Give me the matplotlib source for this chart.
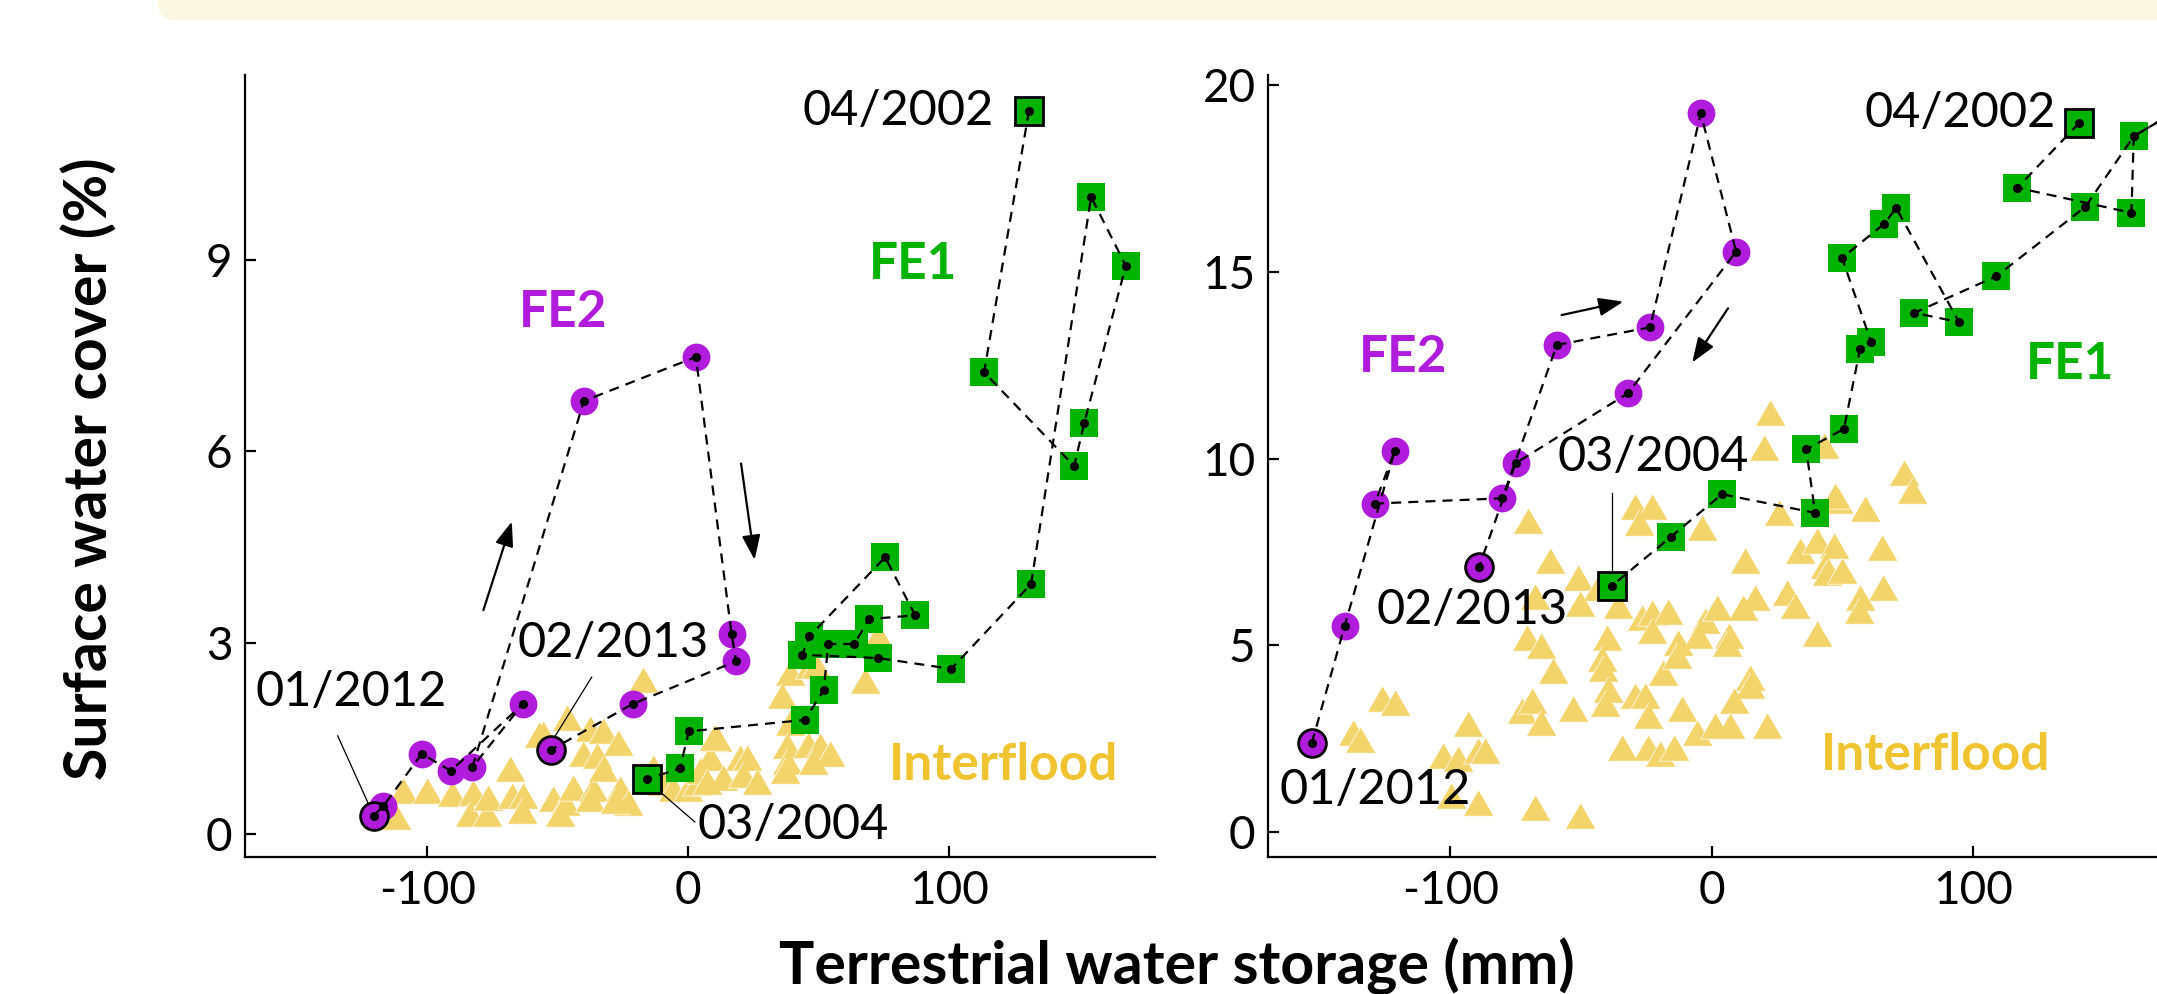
import matplotlib
matplotlib.use("Agg")
import matplotlib.pyplot as plt
import matplotlib.patches as mpatches
from matplotlib.transforms import IdentityTransform

plt.rcParams['font.family'] = ['Lato', 'DejaVu Sans']
plt.rcParams['axes.unicode_minus'] = False

# ---------------- left panel ----------------
fe2_left_x = [-120.5, -116.8, -102.1, -91.0, -63.4, -82.7, -40.0, 2.9, 16.6, 18.3, -21.3, -52.6]
fe2_left_y = [0.29, 0.44, 1.26, 0.99, 2.04, 1.05, 6.79, 7.48, 3.13, 2.71, 2.04, 1.32]

fe1_left_x = [130.5, 113.3, 147.8, 151.7, 167.6, 154.3, 131.3, 100.7, 72.7, 43.6, 46.4,
              75.4, 86.9, 69.2, 63.6, 53.6, 51.9, 44.7, 0.2, -3.2, -15.7]
fe1_left_y = [11.34, 7.24, 5.77, 6.45, 8.91, 9.99, 3.92, 2.59, 2.76, 2.81, 3.10,
              4.34, 3.43, 3.37, 2.98, 2.98, 2.26, 1.79, 1.61, 1.03, 0.86]

inter_left_x = [-115.6, -112.0, -109.2, -100.2, -90.7, -82.4, -83.6, -77.2, -76.6, -68.3,
                -67.7, -63.2, -63.8, -55.6, -51.7, -47.2, -49.2, -46.6, -37.7, -32.6,
                -26.8, -40.2, -35.1, -44.1, -36.4, -37.7, -32.6, -26.2, -23.0, -28.1,
                -17.2, -13.4, -10.2, -5.7, 0.0, 3.2, 72.8, 67.7, 39.0, 35.8,
                46.6, 39.0, 10.9, 8.3, 19.8, 22.4, 4.5, 13.4, 21.1, 26.2,
                7.0, 37.7, 46.0, 50.5, 54.3, 37.7, 47.9, 37.0, -57.2, 10.0, 49.1]
inter_left_y = [0.38, 0.20, 0.61, 0.61, 0.56, 0.58, 0.25, 0.25, 0.51, 0.95,
                0.53, 0.53, 0.30, 1.50, 0.48, 0.42, 0.25, 1.76, 1.58, 1.55,
                1.37, 1.19, 1.16, 0.66, 0.64, 0.48, 0.95, 0.64, 0.42, 0.45,
                2.36, 0.98, 0.74, 0.64, 0.64, 0.74, 3.04, 2.34, 2.47, 2.10,
                2.57, 1.68, 1.42, 1.13, 1.13, 1.13, 0.92, 0.82, 0.87, 0.76,
                0.76, 1.32, 1.34, 1.32, 1.19, 1.06, 1.06, 0.92, 1.49, 1.45, 2.57]

# ---------------- right panel ----------------
fe2_right_x = [-152.9, -140.3, -121.2, -128.8, -80.1, -59.2, -23.6, -4.2, 9.3, -32.1, -75.0, -88.9]
fe2_right_y = [2.38, 5.53, 10.21, 8.80, 8.94, 13.05, 13.52, 19.25, 15.55, 11.75, 9.88, 7.11]

fe1_right_x = [140.5, 116.8, 160.4, 161.3, 188.0, 161.3, 142.8, 108.8, 77.4, 94.5, 70.5,
               65.8, 49.8, 60.9, 56.7, 50.5, 36.1, 39.5, 3.9, -15.6, -38.3]
fe1_right_y = [19.00, 17.26, 16.59, 18.64, 19.75, 18.64, 16.75, 14.89, 13.91, 13.66, 16.72,
               16.29, 15.38, 13.13, 12.95, 10.80, 10.25, 8.55, 9.05, 7.91, 6.59]

inter_right_x = [-70.2, -61.9, -51.0, -43.4, -50.2, -29.3, -22.9, -28.0, -35.7, -26.8,
                 -23.0, -16.6, -23.0, -3.8, -2.6, -5.1, -12.8, -70.8, -65.1, -60.6,
                 -40.2, -42.1, -41.5, -39.6, -40.8, -29.3, -25.5, -24.2, -18.5, -13.4,
                 -11.5, -5.8, -24.2, -19.7, -14.6, -34.4, -52.9, -72.7, -68.9, -65.1,
                 -93.1, -102.7, -97.0, -89.4, -86.8, -99.5, -89.4, -67.6, -50.4, -126.2,
                 -121.1, -137.1, -134.6, -67.6, 25.5, 48.4, 58.6, 12.7, 33.8, 40.2,
                 46.6, 43.4, 44.1, 49.7, 65.0, 65.4, 28.7, 31.9, 16.6, 12.1,
                 1.9, 56.8, 56.1, 40.2, 6.4, 5.7, 14.7, 14.7, 8.3, 7.0,
                 21.0, 1.3, 22.3, 19.8, 73.3, 76.5, 42.7, 47.2]
inter_right_y = [8.22, 7.15, 6.71, 6.44, 5.99, 8.60, 8.60, 8.18, 5.95, 5.63,
                 5.76, 5.80, 5.28, 8.04, 5.54, 5.14, 4.97, 5.10, 4.87, 4.21,
                 5.10, 4.52, 4.25, 3.71, 3.31, 3.54, 3.54, 3.00, 4.16, 4.61,
                 3.18, 2.55, 2.15, 1.97, 2.15, 2.15, 3.18, 3.13, 3.40, 2.82,
                 2.78, 1.93, 1.84, 2.06, 2.06, 0.86, 0.68, 0.54, 0.32, 3.45,
                 3.36, 2.55, 2.37, 6.19, 8.45, 8.76, 8.54, 7.15, 7.42, 7.69,
                 7.56, 7.02, 6.84, 6.88, 7.50, 6.44, 6.30, 5.95, 6.17, 5.90,
                 5.90, 6.17, 5.81, 5.19, 5.14, 4.92, 4.03, 3.80, 3.40, 2.73,
                 2.73, 2.73, 11.13, 10.19, 9.52, 9.03, 10.23, 8.89]

PURPLE = '#B01BDC'
GREEN = '#00B300'
YELLOW = '#F3D46A'
GOLD = '#F0C430'
TRI = [(0, 1), (-0.866, -0.5), (0.866, -0.5)]

fig = plt.figure(figsize=(21.57, 9.94), dpi=100)

# pale banner at the top
banner = mpatches.FancyBboxPatch((158, 974), 2200, 200, boxstyle="round,pad=0,rounding_size=18",
                                 transform=IdentityTransform(), fc='#FAF7E3', ec='none')
fig.add_artist(banner)

ax1 = fig.add_axes([0.1136, 0.1378, 0.4219, 0.7867])
ax2 = fig.add_axes([0.5879, 0.1378, 0.4604, 0.7867])


def draw_event(ax, xs, ys, marker, color, ms, first_last):
    ax.plot(xs, ys, ls='none', marker=marker, ms=ms, mfc=color, mec=color, mew=0, zorder=3)
    for i in first_last:
        ax.plot(xs[i], ys[i], ls='none', marker=marker, ms=ms, mfc=color, mec='k', mew=2, zorder=3)
    ax.plot(xs, ys, color='k', lw=1.6, ls=(0, (4.5, 3.2)), zorder=4)
    ax.plot(xs, ys, ls='none', marker='o', ms=5.5, color='k', zorder=5)


def arrow(ax, tail, head):
    ax.annotate('', xy=head, xytext=tail,
                arrowprops=dict(arrowstyle='-|>,head_length=0.75,head_width=0.28', lw=1.6,
                                color='k', shrinkA=0, shrinkB=0, mutation_scale=20), zorder=6)


for ax in (ax1, ax2):
    ax.spines['top'].set_visible(False)
    ax.spines['right'].set_visible(False)
    for s in ('left', 'bottom'):
        ax.spines[s].set_linewidth(1.6)
    ax.tick_params(direction='in', length=8, width=1.6, labelsize=33, pad=9)

# left panel
ax1.plot(inter_left_x, inter_left_y, ls='none', marker=TRI, ms=25, mfc=YELLOW, mec='white',
         mew=0.5, zorder=2)
draw_event(ax1, fe2_left_x, fe2_left_y, 'o', PURPLE, 20, [0, len(fe2_left_x) - 1])
draw_event(ax1, fe1_left_x, fe1_left_y, 's', GREEN, 20.5, [0, len(fe1_left_x) - 1])
arrow(ax1, (-78.5, 3.51), (-67.6, 4.90))
arrow(ax1, (20.2, 5.81), (25.4, 4.30))
ax1.plot([-134.3, -122.6], [1.54, 0.48], color='k', lw=0.9, zorder=4)
ax1.plot([-37.0, -51.1], [2.46, 1.53], color='k', lw=0.9, zorder=4)
ax1.plot([-10.2, 2.5], [0.64, 0.19], color='k', lw=0.9, zorder=4)
ax1.text(80.5, 11.34, '04/2002', fontsize=35, ha='center', va='center', zorder=7)
ax1.text(-129.2, 2.23, '01/2012', fontsize=35, ha='center', va='center', zorder=7)
ax1.text(-28.8, 2.99, '02/2013', fontsize=35, ha='center', va='center', zorder=7)
ax1.text(40.2, 0.14, '03/2004', fontsize=35, ha='center', va='center', zorder=7)
ax1.text(86.2, 8.93, 'FE1', fontsize=37, fontweight='bold', color=GREEN, ha='center', va='center')
ax1.text(-48.0, 8.17, 'FE2', fontsize=37, fontweight='bold', color=PURPLE, ha='center', va='center')
ax1.text(120.9, 1.07, 'Interflood', fontsize=37, fontweight='bold', color=GOLD, ha='center',
         va='center')
ax1.set_xlim(-169.8, 178.8)
ax1.set_ylim(-0.36, 11.9)
ax1.set_xticks([-100, 0, 100])
ax1.set_yticks([0, 3, 6, 9])

# right panel
ax2.plot(inter_right_x, inter_right_y, ls='none', marker=TRI, ms=25, mfc=YELLOW, mec='white',
         mew=0.5, zorder=2)
draw_event(ax2, fe2_right_x, fe2_right_y, 'o', PURPLE, 20, [0, len(fe2_right_x) - 1])
draw_event(ax2, fe1_right_x, fe1_right_y, 's', GREEN, 20.5, [0, len(fe1_right_x) - 1])
arrow(ax2, (-57.4, 13.85), (-33.8, 14.21))
arrow(ax2, (6.2, 14.03), (-7.5, 12.58))
ax2.plot([-38.3, -38.3], [9.08, 6.98], color='k', lw=0.9, zorder=4)
ax2.text(95.0, 19.25, '04/2002', fontsize=35, ha='center', va='center', zorder=7)
ax2.text(-128.8, 1.13, '01/2012', fontsize=35, ha='center', va='center', zorder=7)
ax2.text(-91.5, 5.95, '02/2013', fontsize=35, ha='center', va='center', zorder=7)
ax2.text(-22.5, 10.05, '03/2004', fontsize=35, ha='center', va='center', zorder=7)
ax2.text(136.8, 12.53, 'FE1', fontsize=37, fontweight='bold', color=GREEN, ha='center', va='center')
ax2.text(-118.0, 12.70, 'FE2', fontsize=37, fontweight='bold', color=PURPLE, ha='center', va='center')
ax2.text(85.7, 2.04, 'Interflood', fontsize=37, fontweight='bold', color=GOLD, ha='center',
         va='center')
ax2.set_xlim(-169.6, 210.0)
ax2.set_ylim(-0.67, 20.28)
ax2.set_xticks([-100, 0, 100])
ax2.set_yticks([0, 5, 10, 15, 20])

fig.text(0.5457, 0.028, 'Terrestrial water storage (mm)', fontsize=42.5, fontweight='bold',
         ha='center', va='center')
fig.text(0.0417, 0.528, 'Surface water cover (%)', fontsize=42.5, fontweight='bold',
         rotation=90, ha='center', va='center')

fig.savefig('out.png', dpi=100)
